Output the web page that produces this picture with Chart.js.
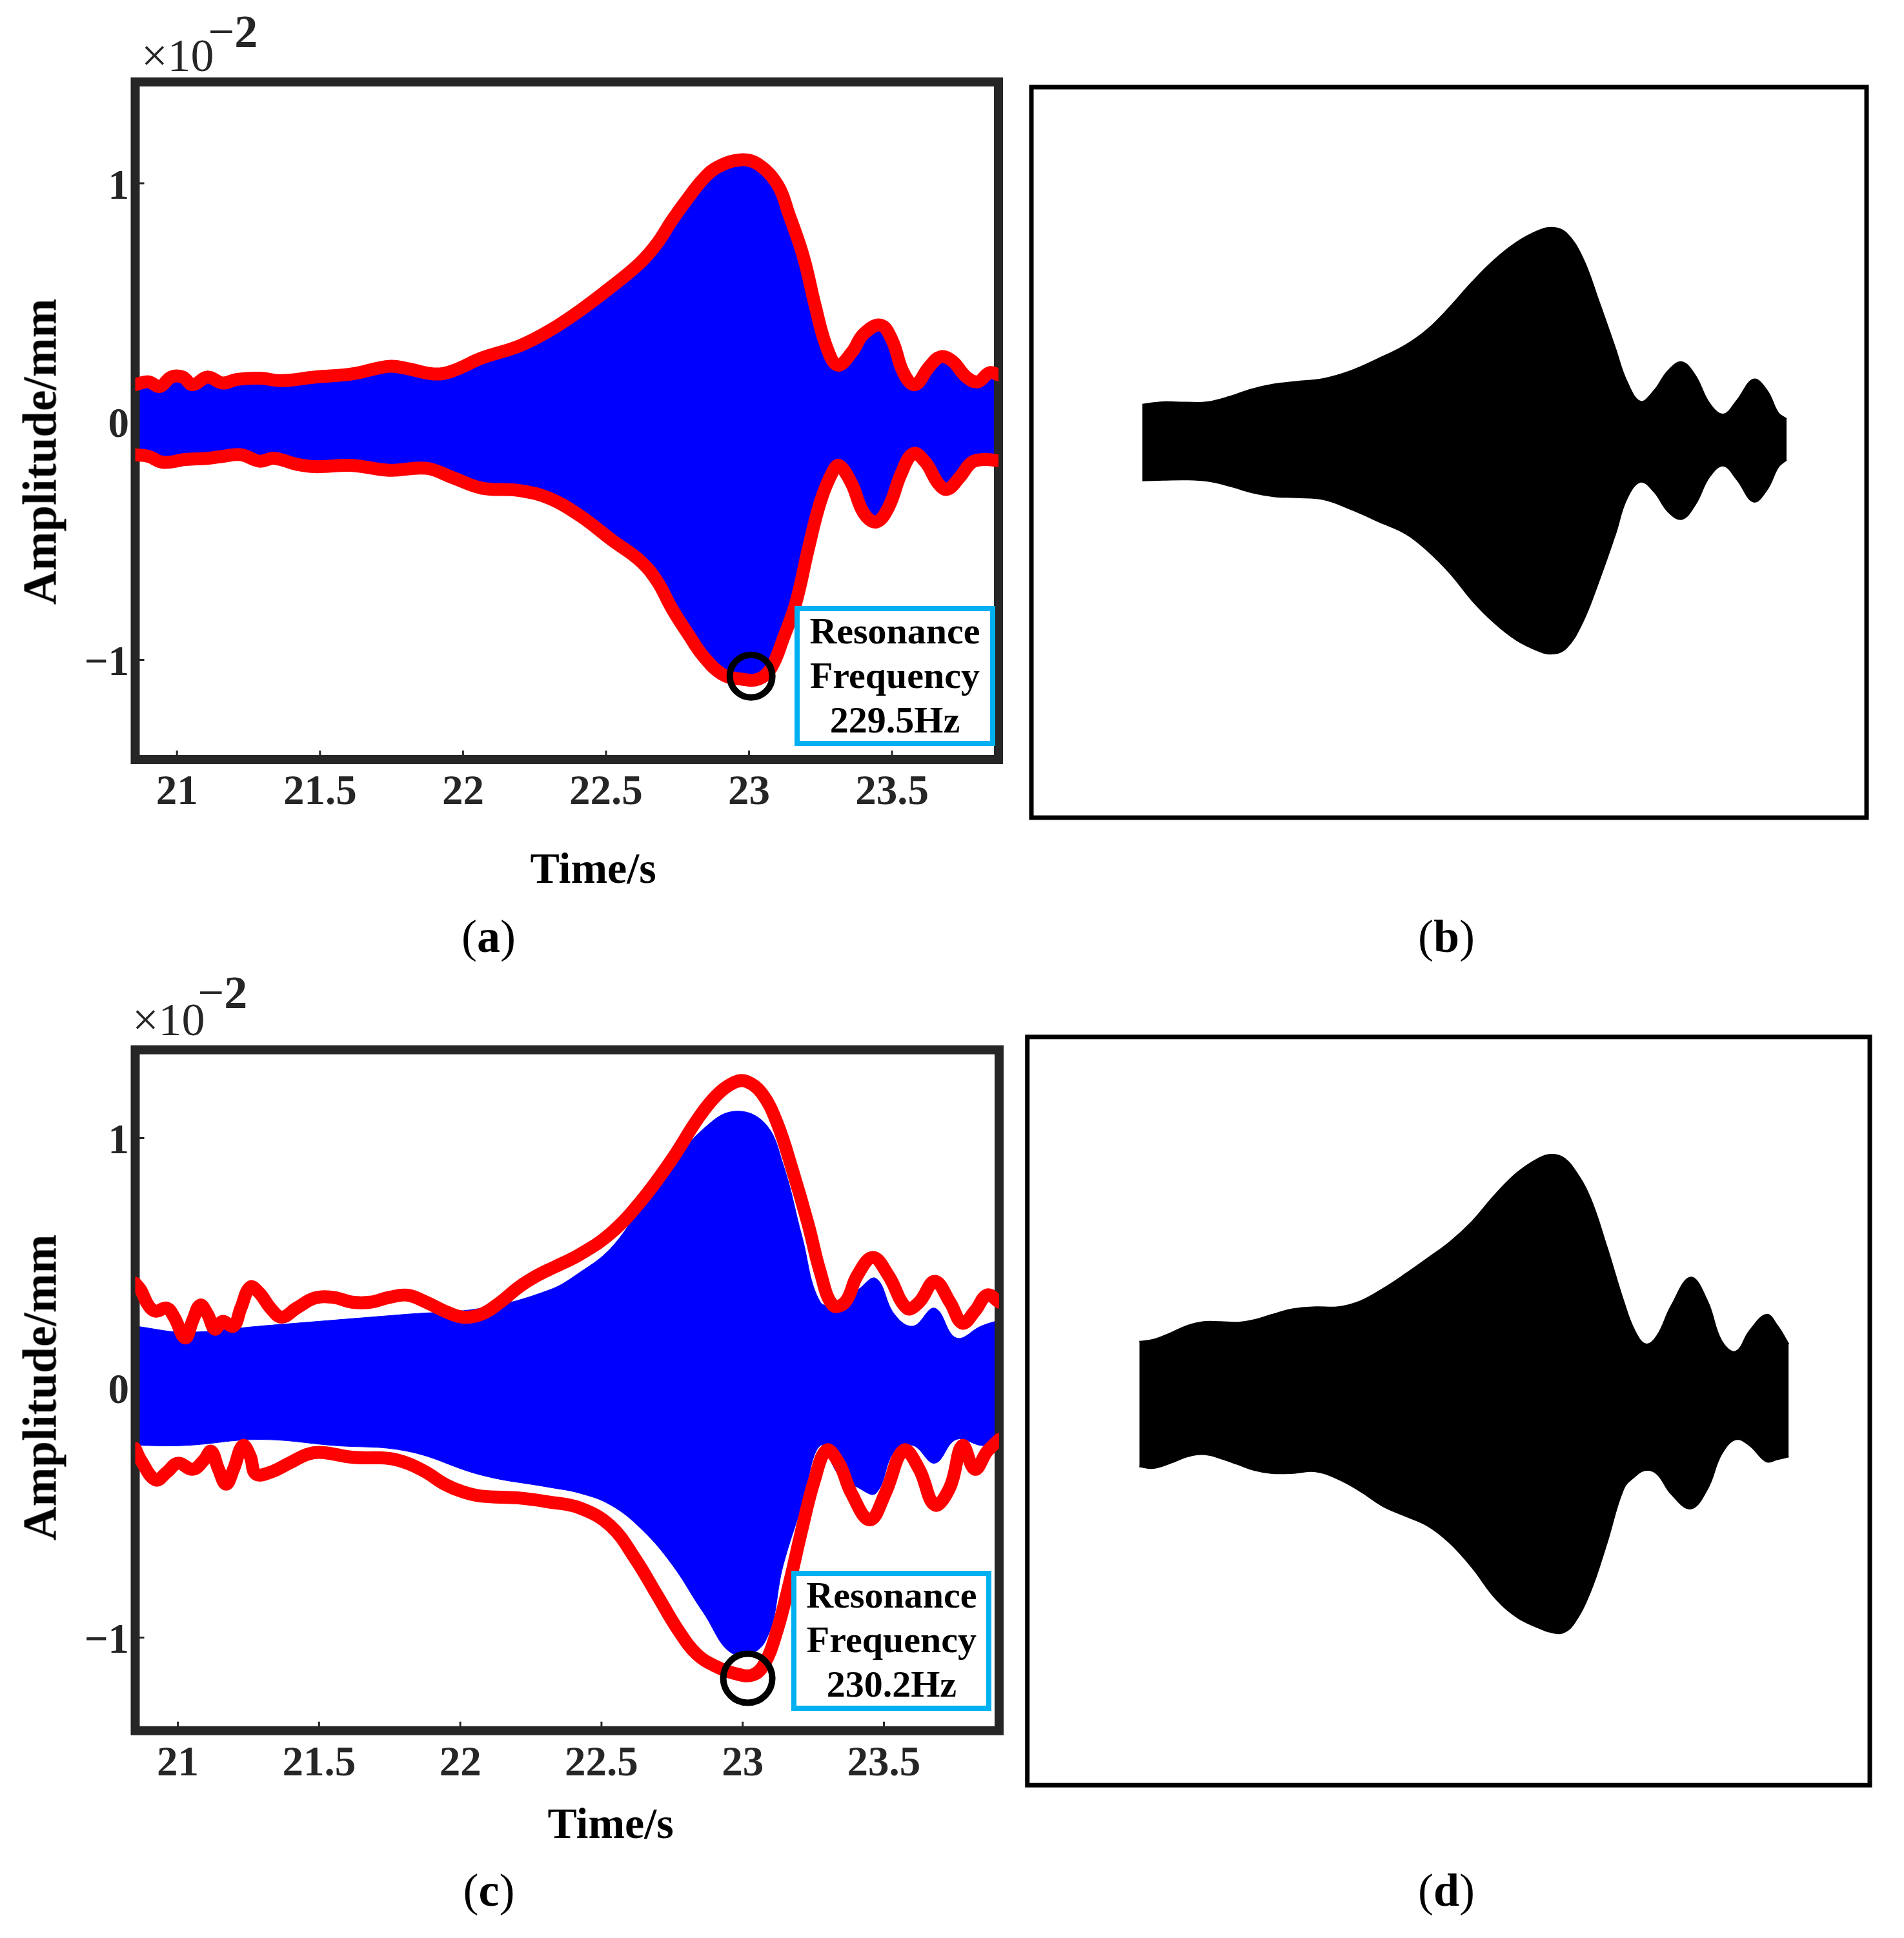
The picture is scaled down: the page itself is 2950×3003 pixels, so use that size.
<!DOCTYPE html>
<html>
<head>
<meta charset="utf-8">
<title>Resonance frequency envelopes</title>
<script src="https://cdn.jsdelivr.net/npm/chart.js@4.4.1/dist/chart.umd.min.js"></script>
<style>
  html, body { margin: 0; padding: 0; background: #fff; }
  body { position: relative; width: 2950px; height: 3003px; overflow: hidden;
         font-family: 'Liberation Serif', 'Times New Roman', serif; }
  canvas { position: absolute; }
  .txt { position: absolute; white-space: nowrap; line-height: 1; color: #000; }
  .xtitle { font-size: 68px; font-weight: bold; transform: translateX(-50%); }
  .ytitle { font-size: 73px; font-weight: bold; transform: translate(-50%, -50%) rotate(-90deg); }
  .exp { font-size: 72px; color: #262626; }
  .exp span { position: relative; }
  .panel { font-size: 72px; transform: translateX(-50%); }
  .note { position: absolute; box-sizing: border-box; border: 8px solid #00B0F0; background: #fff; }
  .note div { position: absolute; left: 0; right: 0; text-align: center; font-size: 58px;
              font-weight: bold; line-height: 69px; color: #000; white-space: nowrap; }
</style>
</head>
<body>
<canvas id="chartA" style="left:0px;top:0px"></canvas>
<canvas id="chartB" style="left:1578px;top:115px"></canvas>
<canvas id="chartC" style="left:0px;top:1500px"></canvas>
<canvas id="chartD" style="left:1572px;top:1587px"></canvas>

<div class="txt exp" style="left:219px;top:50px">×10<span style="top:-37px;margin-left:-9px">−<b>2</b></span></div>
<div class="txt exp" style="left:205px;top:1544px">×10<span style="top:-42px;margin-left:-11px">−<b>2</b></span></div>

<div class="txt ytitle" style="left:61.5px;top:700px">Amplitude/mm</div>
<div class="txt ytitle" style="left:61.5px;top:2149.6px">Amplitude/mm</div>
<div class="txt xtitle" style="left:919px;top:1311px">Time/s</div>
<div class="txt xtitle" style="left:946px;top:2791px">Time/s</div>

<div class="note" style="left:1231px;top:938.6px;width:311px;height:217.4px">
  <div style="top:-3.9px">Resonance<br>Frequency<br>229.5Hz</div>
</div>
<div class="note" style="left:1226.4px;top:2434px;width:310px;height:217px">
  <div style="top:-4.8px">Resonance<br>Frequency<br>230.2Hz</div>
</div>

<div class="txt panel" style="left:757px;top:1414.7px">(<b>a</b>)</div>
<div class="txt panel" style="left:2241px;top:1414.7px">(<b>b</b>)</div>
<div class="txt panel" style="left:757.5px;top:2892.7px">(<b>c</b>)</div>
<div class="txt panel" style="left:2241px;top:2892.7px">(<b>d</b>)</div>

<script>
// axis ticks: time in s, amplitude in units of 1e-2 mm
const xTicks = [21, 21.5, 22, 22.5, 23, 23.5];
const yTicks = [-1, 0, 1];

// (a) measured signal, upper and lower envelope (red)
const tUpA = [20.854, 20.90, 20.94, 20.98, 21.02, 21.055, 21.107, 21.159, 21.21, 21.289, 21.366, 21.483, 21.612, 21.742, 21.807, 21.898, 21.962, 22.066, 22.196, 22.30, 22.41, 22.52, 22.62, 22.68, 22.73, 22.79, 22.84, 22.89, 22.97, 23.03, 23.10, 23.14, 23.19, 23.23, 23.27, 23.31, 23.36, 23.40, 23.46, 23.50, 23.54, 23.58, 23.63, 23.67, 23.71, 23.76, 23.80, 23.84, 23.872];
const upA = [0.155, 0.167, 0.147, 0.187, 0.187, 0.155, 0.187, 0.162, 0.177, 0.182, 0.172, 0.187, 0.20, 0.232, 0.222, 0.20, 0.212, 0.267, 0.317, 0.38, 0.467, 0.567, 0.667, 0.75, 0.843, 0.943, 1.018, 1.068, 1.098, 1.081, 0.993, 0.868, 0.692, 0.492, 0.317, 0.237, 0.292, 0.367, 0.405, 0.342, 0.205, 0.155, 0.23, 0.272, 0.255, 0.187, 0.167, 0.205, 0.197];
const tLoA = [20.854, 20.90, 20.952, 21.029, 21.107, 21.159, 21.224, 21.289, 21.34, 21.418, 21.483, 21.612, 21.742, 21.872, 21.962, 22.066, 22.196, 22.30, 22.41, 22.52, 22.62, 22.68, 22.73, 22.79, 22.84, 22.905, 22.97, 23.034, 23.077, 23.12, 23.164, 23.207, 23.25, 23.293, 23.315, 23.358, 23.401, 23.445, 23.488, 23.531, 23.574, 23.617, 23.661, 23.693, 23.736, 23.779, 23.822, 23.872];
const loA = [-0.139, -0.146, -0.171, -0.159, -0.154, -0.146, -0.139, -0.166, -0.154, -0.179, -0.189, -0.184, -0.204, -0.196, -0.234, -0.279, -0.289, -0.321, -0.396, -0.497, -0.585, -0.672, -0.784, -0.897, -0.984, -1.059, -1.08, -1.08, -1.034, -0.909, -0.759, -0.535, -0.334, -0.209, -0.184, -0.259, -0.384, -0.421, -0.359, -0.221, -0.134, -0.171, -0.259, -0.284, -0.234, -0.171, -0.159, -0.164];
const markA = { x: 23.007, y: -1.068 };

// (c) measured signal, envelope (red) and extent of the raw trace (blue)
const tUpC = [20.849, 20.869, 20.895, 20.921, 20.961, 20.987, 21.026, 21.053, 21.079, 21.105, 21.131, 21.158, 21.197, 21.223, 21.256, 21.289, 21.328, 21.368, 21.420, 21.486, 21.551, 21.617, 21.682, 21.748, 21.813, 21.879, 21.945, 22.010, 22.076, 22.142, 22.207, 22.273, 22.338, 22.423, 22.532, 22.641, 22.750, 22.838, 22.904, 22.969, 23.013, 23.068, 23.122, 23.177, 23.232, 23.275, 23.319, 23.363, 23.406, 23.461, 23.516, 23.581, 23.625, 23.680, 23.734, 23.778, 23.822, 23.866, 23.908];
const upC = [0.419, 0.391, 0.331, 0.307, 0.319, 0.283, 0.200, 0.271, 0.331, 0.295, 0.235, 0.266, 0.247, 0.319, 0.403, 0.379, 0.319, 0.283, 0.319, 0.360, 0.362, 0.343, 0.343, 0.362, 0.371, 0.343, 0.307, 0.283, 0.295, 0.343, 0.403, 0.450, 0.486, 0.534, 0.618, 0.749, 0.916, 1.072, 1.167, 1.222, 1.227, 1.179, 1.060, 0.869, 0.654, 0.462, 0.331, 0.343, 0.450, 0.522, 0.450, 0.319, 0.343, 0.426, 0.343, 0.259, 0.307, 0.372, 0.343];
const tLoC = [20.849, 20.869, 20.921, 20.961, 21.000, 21.053, 21.092, 21.118, 21.144, 21.171, 21.197, 21.230, 21.256, 21.276, 21.328, 21.394, 21.459, 21.512, 21.617, 21.748, 21.813, 21.879, 21.945, 22.010, 22.076, 22.207, 22.313, 22.423, 22.532, 22.619, 22.696, 22.772, 22.838, 22.904, 22.969, 23.035, 23.078, 23.122, 23.166, 23.210, 23.253, 23.297, 23.341, 23.385, 23.450, 23.505, 23.570, 23.625, 23.680, 23.734, 23.778, 23.822, 23.866, 23.908];
const loC = [-0.243, -0.290, -0.369, -0.338, -0.302, -0.326, -0.290, -0.254, -0.326, -0.386, -0.326, -0.231, -0.274, -0.345, -0.338, -0.302, -0.266, -0.259, -0.278, -0.283, -0.302, -0.338, -0.386, -0.417, -0.434, -0.441, -0.457, -0.481, -0.553, -0.684, -0.828, -0.971, -1.067, -1.115, -1.143, -1.150, -1.103, -0.971, -0.780, -0.565, -0.374, -0.250, -0.302, -0.422, -0.529, -0.422, -0.250, -0.326, -0.469, -0.398, -0.231, -0.326, -0.254, -0.207];
const tTraceC = [20.849, 21.026, 21.289, 21.551, 21.813, 22.076, 22.313, 22.423, 22.532, 22.641, 22.750, 22.860, 22.969, 23.078, 23.144, 23.210, 23.275, 23.341, 23.406, 23.472, 23.537, 23.603, 23.680, 23.756, 23.844, 23.908];
const traceHiC = [0.247, 0.223, 0.247, 0.271, 0.295, 0.319, 0.391, 0.462, 0.558, 0.725, 0.892, 1.036, 1.107, 1.060, 0.892, 0.606, 0.343, 0.343, 0.391, 0.438, 0.295, 0.247, 0.319, 0.200, 0.247, 0.271];
const traceLoC = [-0.231, -0.231, -0.207, -0.231, -0.254, -0.350, -0.398, -0.422, -0.469, -0.565, -0.708, -0.899, -1.067, -1.019, -0.708, -0.469, -0.231, -0.350, -0.398, -0.422, -0.254, -0.231, -0.302, -0.207, -0.231, -0.231];
const markC = { x: 23.018, y: -1.163 };

// (b) simulated response envelope
const tB = [20.85, 20.948, 21.052, 21.155, 21.259, 21.362, 21.465, 21.569, 21.698, 21.827, 21.957, 22.086, 22.189, 22.293, 22.396, 22.50, 22.603, 22.706, 22.771, 22.836, 22.913, 22.991, 23.068, 23.12, 23.185, 23.249, 23.314, 23.379, 23.443, 23.508, 23.573, 23.637, 23.715, 23.779, 23.831, 23.87];
const upB = [0.193, 0.205, 0.203, 0.205, 0.233, 0.27, 0.295, 0.308, 0.323, 0.363, 0.425, 0.495, 0.575, 0.688, 0.813, 0.925, 1.013, 1.073, 1.088, 1.063, 0.938, 0.713, 0.475, 0.313, 0.208, 0.263, 0.363, 0.408, 0.338, 0.20, 0.143, 0.213, 0.32, 0.263, 0.15, 0.12];
const loB = [-0.193, -0.19, -0.188, -0.195, -0.22, -0.253, -0.273, -0.278, -0.288, -0.338, -0.40, -0.463, -0.55, -0.663, -0.80, -0.913, -1.0, -1.055, -1.07, -1.043, -0.913, -0.70, -0.463, -0.288, -0.20, -0.25, -0.35, -0.388, -0.313, -0.175, -0.118, -0.188, -0.30, -0.238, -0.125, -0.088];

// (d) simulated response envelope
const tD = [20.85, 20.915, 20.993, 21.071, 21.149, 21.227, 21.306, 21.384, 21.462, 21.566, 21.67, 21.774, 21.878, 21.982, 22.087, 22.191, 22.295, 22.399, 22.503, 22.607, 22.711, 22.763, 22.816, 22.868, 22.946, 23.024, 23.102, 23.154, 23.206, 23.258, 23.323, 23.414, 23.492, 23.557, 23.623, 23.688, 23.766, 23.818, 23.87];
const upD = [0.308, 0.318, 0.35, 0.388, 0.408, 0.408, 0.405, 0.418, 0.443, 0.473, 0.483, 0.483, 0.513, 0.575, 0.65, 0.73, 0.813, 0.918, 1.05, 1.163, 1.238, 1.255, 1.243, 1.188, 1.038, 0.788, 0.513, 0.363, 0.295, 0.338, 0.488, 0.633, 0.513, 0.313, 0.258, 0.363, 0.445, 0.388, 0.295];
const loD = [-0.325, -0.333, -0.308, -0.275, -0.263, -0.283, -0.313, -0.343, -0.358, -0.358, -0.35, -0.388, -0.45, -0.525, -0.575, -0.625, -0.713, -0.838, -0.988, -1.088, -1.143, -1.163, -1.168, -1.125, -0.963, -0.713, -0.438, -0.375, -0.343, -0.363, -0.463, -0.538, -0.438, -0.263, -0.188, -0.218, -0.30, -0.288, -0.275];

const serif = "'Liberation Serif', 'Times New Roman', serif";
const ink = '#262626';

function pts(ts, vs) {
    return ts.map((t, i) => ({ x: t, y: vs[i] }));
}

function drawFrame(chart, o) {
    const { ctx, chartArea: a } = chart;
    ctx.save();
    ctx.strokeStyle = o.color;
    ctx.lineWidth = o.width;
    ctx.strokeRect(a.left, a.top, a.right - a.left, a.bottom - a.top);
    ctx.restore();
}

// MATLAB style ticks pointing into the plot
function drawTicks(chart, o) {
    const { ctx, chartArea: a, scales } = chart;
    ctx.save();
    ctx.strokeStyle = o.color;
    ctx.lineWidth = 3;
    ctx.beginPath();
    scales.x.ticks.forEach(t => {
        const px = scales.x.getPixelForValue(t.value);
        ctx.moveTo(px, a.bottom);
        ctx.lineTo(px, a.bottom - o.tickLen);
    });
    scales.y.ticks.forEach(t => {
        const py = scales.y.getPixelForValue(t.value);
        ctx.moveTo(a.left, py);
        ctx.lineTo(a.left + o.tickLen, py);
    });
    ctx.stroke();
    ctx.restore();
}

const framePlugin = {
    id: 'frame',
    beforeDatasetsDraw(chart, args, o) {
        if (o.ticks) drawTicks(chart, o);
        if (o.early) drawFrame(chart, o);
    },
    afterDatasetDraw(chart, args, o) {
        // frame goes over the blue trace but under the red envelope
        if (!o.early && args.index === 0) drawFrame(chart, o);
    }
};

const tickFont = { family: serif, size: 65, weight: 'bold' };

function noPad(s) {
    s.paddingLeft = 0;
    s.paddingRight = 0;
    s.paddingTop = 0;
    s.paddingBottom = 0;
}

// box: plot-area edges inside the canvas; right padding is kept above the
// overflow Chart.js reserves for the ring marker and the thick red lines
function signalChart(id, box, xr, yr, trace, up, lo, mark, markR) {
    const cv = document.getElementById(id);
    cv.width = box.w;
    cv.height = box.h;
    const smooth = { pointRadius: 0, tension: 0.4 };
    const red = { ...smooth, fill: false, borderColor: '#FF0000', borderWidth: 20, borderCapStyle: 'round', borderJoinStyle: 'round', order: 1 };
    return new Chart(cv, {
        type: 'line',
        data: {
            datasets: [
                { ...smooth, data: trace[0], fill: '+1', backgroundColor: '#0000FF', borderColor: '#0000FF', borderWidth: 1, order: 3 },
                { ...smooth, data: trace[1], fill: false, borderColor: '#0000FF', borderWidth: 1, order: 3 },
                { ...red, data: up },
                { ...red, data: lo },
                { data: [mark], showLine: false, pointStyle: 'circle', pointRadius: markR, pointBorderWidth: 10,
                  pointBorderColor: '#000', pointBackgroundColor: 'rgba(0,0,0,0)', order: 0 }
            ]
        },
        options: {
            responsive: false,
            animation: false,
            devicePixelRatio: 1,
            events: [],
            layout: { padding: { top: box.top, right: box.w - box.right, left: 0, bottom: 0 } },
            scales: {
                x: {
                    type: 'linear', min: xr[0], max: xr[1],
                    afterBuildTicks: s => { s.ticks = xTicks.map(v => ({ value: v })); },
                    afterFit: s => { s.height = box.h - box.bottom; noPad(s); },
                    grid: { display: false, drawTicks: false },
                    border: { display: false },
                    ticks: { padding: 13, color: ink, font: tickFont, maxRotation: 0, autoSkip: false, callback: v => String(v) }
                },
                y: {
                    type: 'linear', min: yr[0], max: yr[1],
                    afterBuildTicks: s => { s.ticks = yTicks.map(v => ({ value: v })); },
                    afterFit: s => { s.width = box.left; noPad(s); },
                    grid: { display: false, drawTicks: false },
                    border: { display: false },
                    ticks: { padding: 9.5, labelOffset: 7, color: ink, font: tickFont, callback: v => v < 0 ? '\u2212' + Math.abs(v) : String(v) }
                }
            },
            plugins: {
                legend: { display: false },
                tooltip: { enabled: false },
                frame: { color: ink, width: 14, ticks: true, tickLen: 14, early: false }
            }
        },
        plugins: [framePlugin]
    });
}

function shapeChart(id, box, xr, yr, t, up, lo) {
    const cv = document.getElementById(id);
    cv.width = box.w;
    cv.height = box.h;
    const smooth = { pointRadius: 0, tension: 0.4, borderColor: '#000', borderWidth: 2 };
    return new Chart(cv, {
        type: 'line',
        data: {
            datasets: [
                { ...smooth, data: pts(t, up), fill: '+1', backgroundColor: '#000' },
                { ...smooth, data: pts(t, lo), fill: false }
            ]
        },
        options: {
            responsive: false,
            animation: false,
            devicePixelRatio: 1,
            events: [],
            layout: { padding: box.pad },
            scales: {
                x: { type: 'linear', display: false, min: xr[0], max: xr[1] },
                y: { type: 'linear', display: false, min: yr[0], max: yr[1] }
            },
            plugins: {
                legend: { display: false },
                tooltip: { enabled: false },
                frame: { color: '#000', width: 7, ticks: false, early: true }
            }
        },
        plugins: [framePlugin]
    });
}

signalChart('chartA', { w: 1607, h: 1300, left: 209.5, top: 127, right: 1547, bottom: 1177 },
    [20.854, 23.872], [-1.418, 1.425],
    [pts(tUpA, upA), pts(tLoA, loA)], pts(tUpA, upA), pts(tLoA, loA), markA, 33);

signalChart('chartC', { w: 1608, h: 1300, left: 209.5, top: 126.7, right: 1548, bottom: 1181.8 },
    [20.849, 23.908], [-1.373, 1.3535],
    [pts(tTraceC, traceHiC), pts(tTraceC, traceLoC)], pts(tUpC, upC), pts(tLoC, loC), markC, 38);

shapeChart('chartB', { w: 1334, h: 1172, pad: { left: 20, top: 20, right: 20, bottom: 20 } },
    [20.330, 24.245], [-1.90, 1.80], tB, upB, loB);

shapeChart('chartD', { w: 1345, h: 1199, pad: { left: 19.7, top: 19.8, right: 20, bottom: 19.8 } },
    [20.329, 24.247], [-1.9375, 1.85], tD, upD, loD);
</script>
</body>
</html>
